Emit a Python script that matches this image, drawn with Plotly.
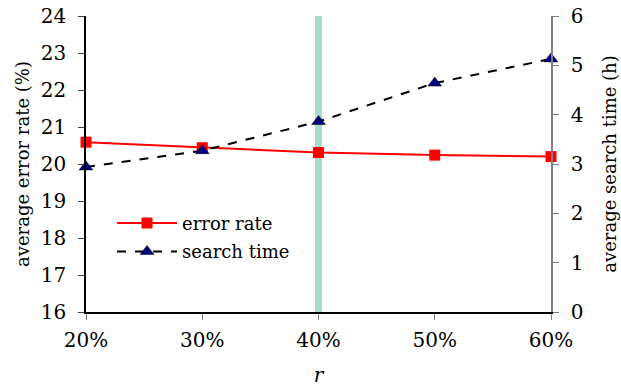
import plotly.graph_objects as go

r_values = [20, 30, 40, 50, 60]
r_labels = ["20%", "30%", "40%", "50%", "60%"]
error_rate = [20.59, 20.44, 20.31, 20.24, 20.20]
search_time = [2.94, 3.27, 3.86, 4.64, 5.13]
highlight_r = 40

font_family = "DejaVu Serif"

fig = go.Figure()

fig.add_shape(type="line", xref="x", yref="paper", x0=highlight_r, x1=highlight_r,
              y0=0, y1=1, line=dict(color="#a8dcc8", width=7), layer="below")

fig.add_trace(go.Scatter(
    x=r_values, y=error_rate, name="error rate", mode="lines+markers",
    legendgroup="err",
    line=dict(color="#ff0000", width=2),
    marker=dict(symbol="square", size=11, color="#ff0000"),
    cliponaxis=False, yaxis="y"))

fig.add_trace(go.Scatter(
    x=r_values, y=search_time, name="search time", mode="lines+markers",
    legendgroup="time",
    line=dict(color="#000000", width=2, dash="dash"),
    marker=dict(symbol="triangle-up", size=12, color="#000080",
                line=dict(color="#000000", width=0.5)),
    cliponaxis=False, yaxis="y2"))

fig.update_layout(
    width=621, height=391,
    margin=dict(l=86, r=70, t=16, b=79),
    paper_bgcolor="white", plot_bgcolor="white",
    font=dict(family=font_family, color="#000000"),
    showlegend=True,
    legend=dict(x=0.056, y=0.362, xanchor="left", yanchor="top",
                bgcolor="rgba(0,0,0,0)", font=dict(size=18, family=font_family),
                tracegroupgap=2, itemwidth=60),
    xaxis=dict(range=[20, 60], tickvals=r_values, ticktext=r_labels, automargin=False,
               showgrid=False, zeroline=False, showline=True, linecolor="#000000",
               linewidth=1.5, ticks="outside", ticklen=6, tickcolor="#808080",
               ticklabelstandoff=3, ticklabeloverflow="allow",
               tickfont=dict(size=20, family=font_family),
               title=dict(text="<i>r</i>", font=dict(size=20, family=font_family), standoff=17)),
    yaxis=dict(range=[16, 24], dtick=1, showgrid=False, zeroline=False, automargin=False,
               showline=True, linecolor="#000000", linewidth=1.5,
               ticks="outside", ticklen=6, tickcolor="#404040",
               ticklabelstandoff=8, ticklabeloverflow="allow",
               tickfont=dict(size=20, family=font_family),
               title=dict(text="average error rate (%)", font=dict(size=18, family=font_family), standoff=6)),
    yaxis2=dict(range=[0, 6], dtick=1, overlaying="y", side="right", automargin=False,
                showgrid=False, zeroline=False, showline=True, linecolor="#808080",
                linewidth=1.5, ticks="outside", ticklen=6, tickcolor="#808080",
                ticklabelstandoff=8, ticklabeloverflow="allow",
                tickfont=dict(size=20, family=font_family),
                title=dict(text="average search time (h)", font=dict(size=18, family=font_family), standoff=21)),
)

fig.write_html("out.html", config={"displayModeBar": False},
               post_script="document.body.style.margin='0px';")
